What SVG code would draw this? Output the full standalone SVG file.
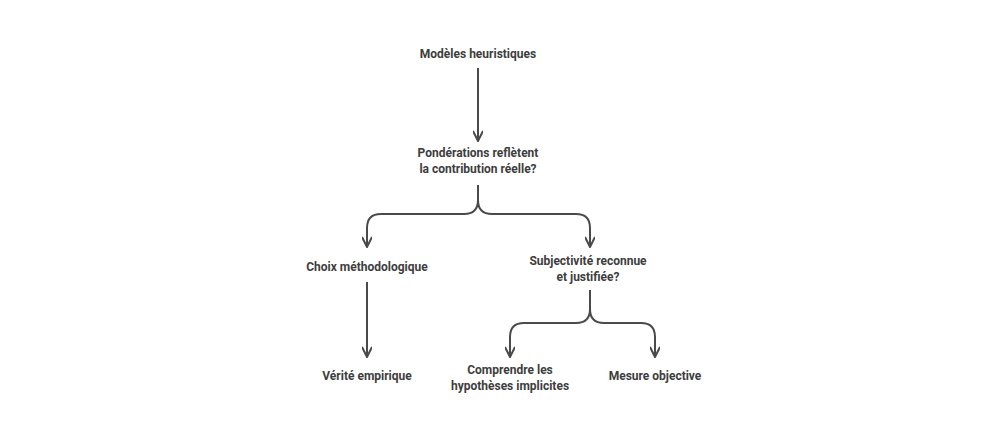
<svg xmlns="http://www.w3.org/2000/svg" width="1008" height="439" viewBox="0 0 1008 439">
<style>
text{font-family:Roboto,"Liberation Sans",sans-serif;font-weight:bold;font-size:12px;fill:#3d3d3d;text-anchor:middle}
.c{fill:none;stroke:#4a4a4a;stroke-width:2;marker-end:url(#a)}
</style>
<defs><marker id="a" viewBox="0 0 12 10" refX="11" refY="5" markerWidth="12" markerHeight="10" markerUnits="userSpaceOnUse" orient="auto"><path d="M1,0 L11,5 L1,10" fill="none" stroke="#4a4a4a" stroke-width="2"/></marker></defs>
<rect width="1008" height="439" fill="#fff"/>
<g id="connectors">
<path class="c" d="M478,68 V141"/>
<path class="c" d="M478,185 V200 Q478,214 464,214 H381 Q367,214 367,228 V247"/>
<path class="c" d="M478,185 V200 Q478,214 492,214 H576 Q590,214 590,228 V247"/>
<path class="c" d="M367,282 V357"/>
<path class="c" d="M590,290 V309 Q590,323 576,323 H524 Q510,323 510,337 V357"/>
<path class="c" d="M590,290 V309 Q590,323 604,323 H641 Q655,323 655,337 V357"/>
</g>
<g id="n1"><text x="478" y="58">Modèles heuristiques</text></g>
<g id="n2"><text x="478" y="157">Pondérations reflètent</text><text x="478" y="173">la contribution réelle?</text></g>
<g id="n3"><text x="367" y="271">Choix méthodologique</text></g>
<g id="n4"><text x="588" y="265">Subjectivité reconnue</text><text x="588" y="281">et justifiée?</text></g>
<g id="n5"><text x="367" y="380">Vérité empirique</text></g>
<g id="n6"><text x="510" y="374">Comprendre les</text><text x="510" y="390">hypothèses implicites</text></g>
<g id="n7"><text x="655" y="380">Mesure objective</text></g>
</svg>
